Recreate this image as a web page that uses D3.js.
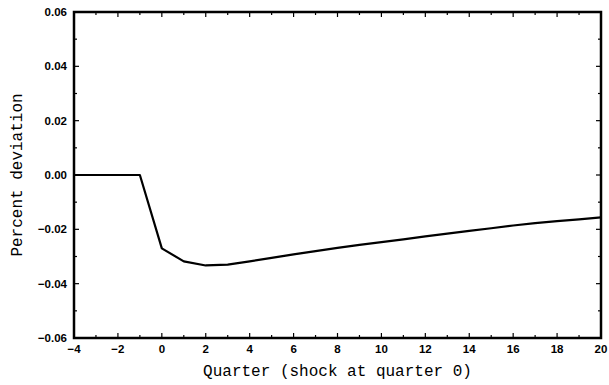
<!DOCTYPE html>
<html><head><meta charset="utf-8">
<script src="https://cdn.jsdelivr.net/npm/d3@7"></script>
<style>body{margin:0;background:#fff}svg{display:block}</style>
</head><body>
<script>
const quarters = [-4,-3,-2,-1,0,1,2,3,4,5,6,7,8,9,10,11,12,13,14,15,16,17,18,19,20];
const deviation = [0,0,0,0,-0.027,-0.0318,-0.0333,-0.0330,-0.0318,-0.0305,-0.0292,-0.0280,-0.0268,-0.0257,-0.0247,-0.0237,-0.0226,-0.0216,-0.0206,-0.0196,-0.0186,-0.0177,-0.0170,-0.0163,-0.0156];
const xTicks = [-4,-2,0,2,4,6,8,10,12,14,16,18,20];
const yTicks = [-0.06,-0.04,-0.02,0,0.02,0.04,0.06];
const xTitle = "Quarter (shock at quarter 0)";
const yTitle = "Percent deviation";

const W=609,H=385, L=74,R=601,T=12,B=338;
const svg=d3.select("body").append("svg").attr("width",W).attr("height",H);
const x=d3.scaleLinear().domain([-4,20]).range([L,R]);
const y=d3.scaleLinear().domain([-0.06,0.06]).range([B,T]);
const fmtMinus = s => s.replace("-","\u2212");

const minorX = d3.range(-4,21,1), minorY = d3.range(-6,7,1).map(d=>d/100);
const g=svg.append("g").attr("stroke","#000").attr("stroke-width",1.2);
// x ticks bottom & top
minorX.forEach(q=>{
  const len = (q%2===0)?5:3;
  g.append("line").attr("x1",x(q)).attr("x2",x(q)).attr("y1",B).attr("y2",B-len);
  g.append("line").attr("x1",x(q)).attr("x2",x(q)).attr("y1",T).attr("y2",T+len);
});
minorY.forEach(v=>{
  const len = (Math.round(v*100)%2===0)?5:3;
  g.append("line").attr("x1",L).attr("x2",L+len).attr("y1",y(v)).attr("y2",y(v));
  g.append("line").attr("x1",R).attr("x2",R-len).attr("y1",y(v)).attr("y2",y(v));
});

// line
svg.append("path").datum(quarters.map((q,i)=>[q,deviation[i]]))
  .attr("fill","none").attr("stroke","#000").attr("stroke-width",2.2)
  .attr("stroke-linejoin","round")
  .attr("d",d3.line().x(d=>x(d[0])).y(d=>y(d[1])));

// frame
svg.append("rect").attr("x",L).attr("y",T).attr("width",R-L).attr("height",B-T)
  .attr("fill","none").attr("stroke","#000").attr("stroke-width",2.5);

// tick labels
svg.append("g").selectAll("text").data(yTicks).join("text")
  .attr("x",L-7).attr("y",d=>y(d)+4).attr("text-anchor","end")
  .attr("font-family","Liberation Sans, Arial, sans-serif").attr("font-weight","bold").attr("font-size",11.5)
  .text(d=>fmtMinus(d3.format(".2f")(d)));
svg.append("g").selectAll("text").data(xTicks).join("text")
  .attr("x",d=>x(d)).attr("y",B+15).attr("text-anchor","middle")
  .attr("font-family","Liberation Sans, Arial, sans-serif").attr("font-weight","bold").attr("font-size",11.5)
  .text(d=>fmtMinus(String(d)));

// titles
svg.append("text").attr("x",(L+R)/2).attr("y",376).attr("text-anchor","middle")
  .attr("font-family","Liberation Mono, Courier New, monospace").attr("font-size",16)
  .text(xTitle);
svg.append("text").attr("transform",`translate(22,${(T+B)/2}) rotate(-90)`).attr("text-anchor","middle")
  .attr("font-family","Liberation Mono, Courier New, monospace").attr("font-size",16)
  .text(yTitle);
</script>
</body></html>
